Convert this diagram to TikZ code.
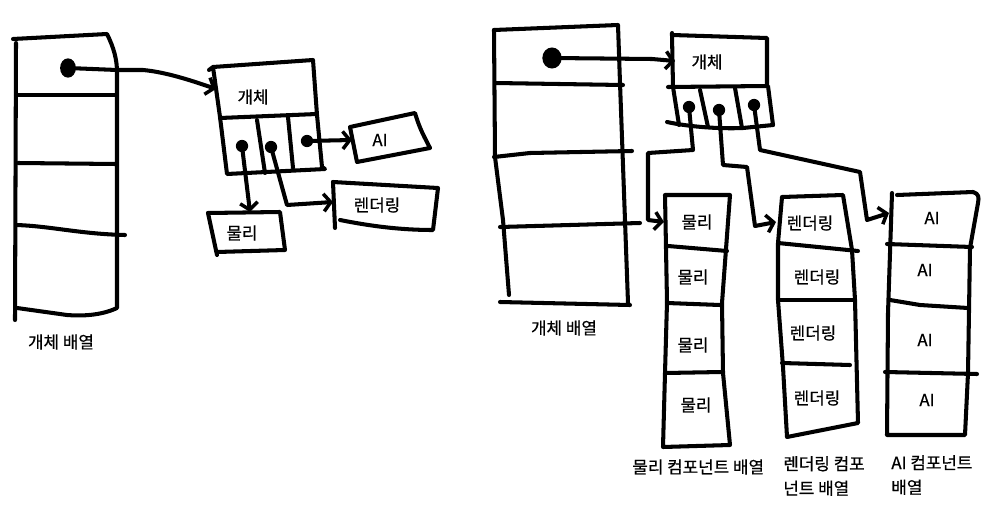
\documentclass[tikz,border=0pt]{standalone}
\usepackage{fontspec}
\setmainfont{Noto Sans CJK KR}[FakeBold=0.6]
\usetikzlibrary{arrows.meta,shapes.geometric}
\tikzset{
  ink/.style={line width=2.3pt, line join=round, line cap=round, black},
  ptr/.style={ink, -{Straight Barb[length=4pt,width=10pt,line width=2pt]}},
  dot/.style={circle, fill=black, inner sep=0pt, minimum size=7pt},
  bigdot/.style={ellipse, fill=black, inner sep=0pt, minimum width=9pt, minimum height=11pt},
  lbl/.style={font=\fontsize{9.6}{11}\selectfont, inner sep=0pt},
  captxt/.style={font=\fontsize{9.6}{14}\selectfont, inner sep=0pt, align=left, anchor=west},
}
\begin{document}
\begin{tikzpicture}[x=0.02cm,y=-0.02cm]
\useasboundingbox (0,0) rectangle (1000,527);

% ================= LEFT DIAGRAM =================
% entity array
\draw[ink] (13,39) -- (107,34) .. controls (114,48) and (117,60) .. (117,72) -- (117,308)
  .. controls (100,316) and (80,316) .. (67,315) -- (17,308);
\draw[ink] (16,43) -- (15,320);
\draw[ink] (16,95) -- (115,95);
\draw[ink] (18,163) -- (116,164);
\draw[ink] (16,225) .. controls (50,226) and (80,234) .. (125,235);
\node[bigdot] (La) at (68,68) {};

% entity box
\draw[ink] (209,70) -- (213,67) -- (313,60) -- (317,115) -- (322,167) -- (325,169) -- (227,174) -- (220,117) -- (213,67);
\draw[ink] (220,118) -- (317,114);
\draw[ink] (257,120) -- (265,173);
\draw[ink] (288,117) -- (293,168);
\node[lbl] (Lobj) at (253,97) {개체};
\node[dot] (Lp) at (242,146) {};
\node[dot] (Lr) at (271,147) {};
\node[dot] (Lai) at (307,141) {};

% AI box
\draw[ink] (350,127) -- (415,113) .. controls (420,130) and (425,138) .. (430,148) -- (357,162) -- (350,127);
\node[lbl] (LAI) at (380,140) {AI};
% rendering box
\draw[ink] (333,182) -- (438,188) -- (433,230) .. controls (400,230) and (370,226) .. (340,220);
\draw[ink] (333,182) -- (335,228);
\node[lbl] (LR) at (377,205) {렌더링};
% physics box
\draw[ink] (208,213) -- (280,212) -- (285,250) -- (217,252);
\draw[ink] (208,213) -- (217,255);
\node[lbl] (LP) at (242,233) {물리};

\coordinate (LobjIn) at (216,89);
\coordinate (LAIin) at (352,140);
\coordinate (LRin) at (333,202);
\coordinate (LPin) at (250,212);
\draw[ptr] (La.center) -- (117,70) -- (143,70) .. controls (165,72) and (190,80) .. (LobjIn);
\draw[ptr] (Lai.center) -- (LAIin);
\draw[ptr] (Lr.center) -- (287,205) -- (LRin);
\draw[ptr] (Lp.center) -- (LPin);

\node[lbl] (Lcap) at (61,342) {개체 배열};

% ================= RIGHT DIAGRAM =================
% entity array
\draw[ink] (494,30) -- (618,25) -- (620,83) -- (628,303);
\draw[ink] (494,30) -- (495,157) -- (503,220) -- (509,295);
\draw[ink] (500,302) -- (630,305);
\draw[ink] (495,83) -- (623,85);
\draw[ink] (494,157) -- (530,153) -- (632,151);
\draw[ink] (500,227) -- (640,223);
\node[bigdot, minimum width=11pt, minimum height=12pt] (Ra) at (552,58) {};
\node[lbl] (Rcap) at (564,328) {개체 배열};

% entity box
\draw[ink] (672,33) -- (672,35) -- (767,38) -- (767,86);
\draw[ink] (672,35) -- (673,87) -- (679,125);
\draw[ink] (668,87) -- (768,86) -- (773,125);
\draw[ink] (667,122) .. controls (690,127) and (720,129) .. (743,128) -- (773,125);
\draw[ink] (700,90) -- (708,127);
\draw[ink] (735,88) -- (742,128);
\node[lbl] (Robj) at (707,62) {개체};
\node[dot] (Rp) at (689,107) {};
\node[dot] (Rr) at (719,110) {};
\node[dot] (Rai) at (754,105) {};

% physics array
\draw[ink] (665,195) -- (730,195) -- (722,303) -- (723,373) -- (730,445) -- (663,447) -- (665,373) -- (667,302) -- (665,195);
\draw[ink] (668,246) -- (727,251);
\draw[ink] (667,303) -- (720,305);
\draw[ink] (665,373) -- (722,372);
\node[lbl] (P1) at (697,222) {물리};
\node[lbl] (P2) at (693,277) {물리};
\node[lbl] (P3) at (693,345) {물리};
\node[lbl] (P4) at (696,405) {물리};
\node[captxt] (Pcap) at (632,467) {물리 컴포넌트 배열};

% rendering array
\draw[ink] (782,197) -- (843,195) -- (852,250) -- (855,300) -- (858,423) -- (787,437) -- (783,367) -- (778,300) -- (778,243) -- (782,197);
\draw[ink] (778,243) -- (858,251);
\draw[ink] (778,300) -- (853,300);
\draw[ink] (782,363) -- (850,365);
\node[lbl] (R1) at (810,223) {렌더링};
\node[lbl] (R2) at (817,277) {렌더링};
\node[lbl] (R3) at (813,333) {렌더링};
\node[lbl] (R4) at (817,398) {렌더링};
\node[captxt] (Rcap2) at (783,476) {렌더링 컴포\\넌트 배열};

% AI array
\draw[ink] (897,195) -- (973,192) .. controls (979,194) and (979,197) .. (978,203) -- (970,248) -- (968,373) -- (965,435) -- (887,435) -- (888,313) -- (892,193);
\draw[ink] (887,244) -- (972,247);
\draw[ink] (890,300) -- (920,305) -- (968,308);
\draw[ink] (885,372) -- (977,374);
\node[lbl] (A1) at (932,218) {AI};
\node[lbl] (A2) at (925,270) {AI};
\node[lbl] (A3) at (925,340) {AI};
\node[lbl] (A4) at (927,400) {AI};
\node[captxt] (Acap) at (891,475) {AI 컴포넌트\\배열};

% pointers
\coordinate (RobjIn) at (675,61);
\coordinate (PIn) at (664,222);
\coordinate (RIn) at (776,222);
\coordinate (AIn) at (889,213);
\draw[ptr] (Ra.center) -- (652,59) -- (RobjIn);
\draw[ptr] (Rp.center) -- (693,150) -- (648,153) -- (648,220) -- (PIn);
\draw[ptr] (Rr.center) -- (723,165) -- (747,167) -- (755,226) -- (RIn);
\draw[ptr] (Rai.center) -- (760,150) -- (860,172) -- (867,220) -- (AIn);
\end{tikzpicture}
\end{document}
